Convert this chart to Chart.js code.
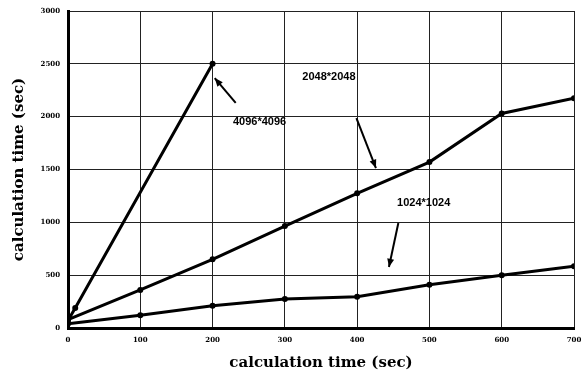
<!DOCTYPE html>
<html>
<head>
<meta charset="utf-8">
<script src="https://cdn.jsdelivr.net/npm/chart.js@4"></script>
<style>
  html, body { margin: 0; padding: 0; background: #fff; }
  #wrap { width: 581px; height: 372px; }
</style>
</head>
<body>
<div id="wrap"><canvas id="calcChart"></canvas></div>
<script>
// values (x: sec, y: calculation time in sec)
const xTicks = [0, 100, 200, 300, 400, 500, 600, 700];
const yTicks = [0, 500, 1000, 1500, 2000, 2500, 3000];

const x4096 = [0, 10, 200];
const y4096 = [70, 190, 2500];

const x2048 = [0, 100, 200, 300, 400, 500, 600, 700];
const y2048 = [80, 360, 650, 965, 1275, 1570, 2030, 2175];

const x1024 = [0, 100, 200, 300, 400, 500, 600, 700];
const y1024 = [40, 120, 210, 275, 295, 410, 500, 585];

// labels and arrows, in data units: [text, textX, textY, arrowFromX, arrowFromY, arrowToX, arrowToY]
const notes = [
  ["4096*4096", 265, 1950, 232, 2130, 203, 2365],
  ["2048*2048", 361, 2375, 399, 1987, 426, 1514],
  ["1024*1024", 492, 1183, 457, 993, 444, 577]
];

function toPoints(xs, ys) {
  return xs.map((x, i) => ({ x: x, y: ys[i] }));
}

const noteLabels = {
  id: 'noteLabels',
  afterDatasetsDraw(chart) {
    const ctx = chart.ctx;
    const sx = chart.scales.x, sy = chart.scales.y;
    ctx.save();
    ctx.fillStyle = '#000';
    ctx.strokeStyle = '#000';
    ctx.font = 'bold 11px "Liberation Sans"';
    ctx.textAlign = 'center';
    ctx.textBaseline = 'middle';
    notes.forEach(n => {
      ctx.fillText(n[0], sx.getPixelForValue(n[1]), sy.getPixelForValue(n[2]));
      const x1 = sx.getPixelForValue(n[3]), y1 = sy.getPixelForValue(n[4]);
      const x2 = sx.getPixelForValue(n[5]), y2 = sy.getPixelForValue(n[6]);
      ctx.lineWidth = 2;
      ctx.beginPath();
      ctx.moveTo(x1, y1);
      ctx.lineTo(x2, y2);
      ctx.stroke();
      const a = Math.atan2(y2 - y1, x2 - x1);
      ctx.beginPath();
      ctx.moveTo(x2, y2);
      ctx.lineTo(x2 - 9 * Math.cos(a - 0.4), y2 - 9 * Math.sin(a - 0.4));
      ctx.lineTo(x2 - 9 * Math.cos(a + 0.4), y2 - 9 * Math.sin(a + 0.4));
      ctx.closePath();
      ctx.fill();
    });
    ctx.restore();
  }
};

const lineStyle = {
  borderColor: '#000',
  backgroundColor: '#000',
  borderWidth: 3,
  pointRadius: 1.5,
  pointBackgroundColor: '#000',
  showLine: true,
  tension: 0
};

const tickFont = { family: 'DejaVu Serif', size: 7, weight: 'bold' };
const titleFont = { family: 'DejaVu Serif', size: 15, weight: 'bold' };

new Chart(document.getElementById('calcChart'), {
  type: 'scatter',
  data: {
    datasets: [
      Object.assign({ label: '4096*4096', data: toPoints(x4096, y4096) }, lineStyle),
      Object.assign({ label: '2048*2048', data: toPoints(x2048, y2048) }, lineStyle),
      Object.assign({ label: '1024*1024', data: toPoints(x1024, y1024) }, lineStyle)
    ]
  },
  options: {
    responsive: true,
    maintainAspectRatio: false,
    animation: false,
    layout: { padding: { left: 10, right: 7, top: 11, bottom: 0 } },
    plugins: {
      legend: { display: false },
      tooltip: { enabled: false }
    },
    scales: {
      x: {
        type: 'linear',
        min: 0,
        max: 700,
        afterFit: s => { s.height = 44; s.paddingLeft = 0; s.paddingRight = 0; },
        afterBuildTicks: s => { s.ticks = xTicks.map(v => ({ value: v })); },
        grid: { color: '#222', lineWidth: 1, drawTicks: false },
        border: { color: '#000', width: 3 },
        ticks: {
          padding: 8,
          maxRotation: 0,
          color: '#000',
          font: tickFont,
          callback: v => String(v)
        },
        title: {
          display: true,
          text: 'calculation time (sec)',
          color: '#000',
          padding: { top: 2, bottom: 0 },
          font: titleFont
        }
      },
      y: {
        min: 0,
        max: 3000,
        afterFit: s => { s.width = 58; s.paddingTop = 0; s.paddingBottom = 0; },
        afterBuildTicks: s => { s.ticks = yTicks.map(v => ({ value: v })); },
        grid: { color: '#222', lineWidth: 1, drawTicks: false },
        border: { color: '#000', width: 3 },
        ticks: {
          padding: 8,
          color: '#000',
          font: tickFont,
          callback: v => String(v)
        },
        title: {
          display: true,
          text: 'calculation time (sec)',
          color: '#000',
          padding: { top: 0, bottom: 4 },
          font: titleFont
        }
      }
    }
  },
  plugins: [noteLabels]
});
</script>
</body>
</html>
